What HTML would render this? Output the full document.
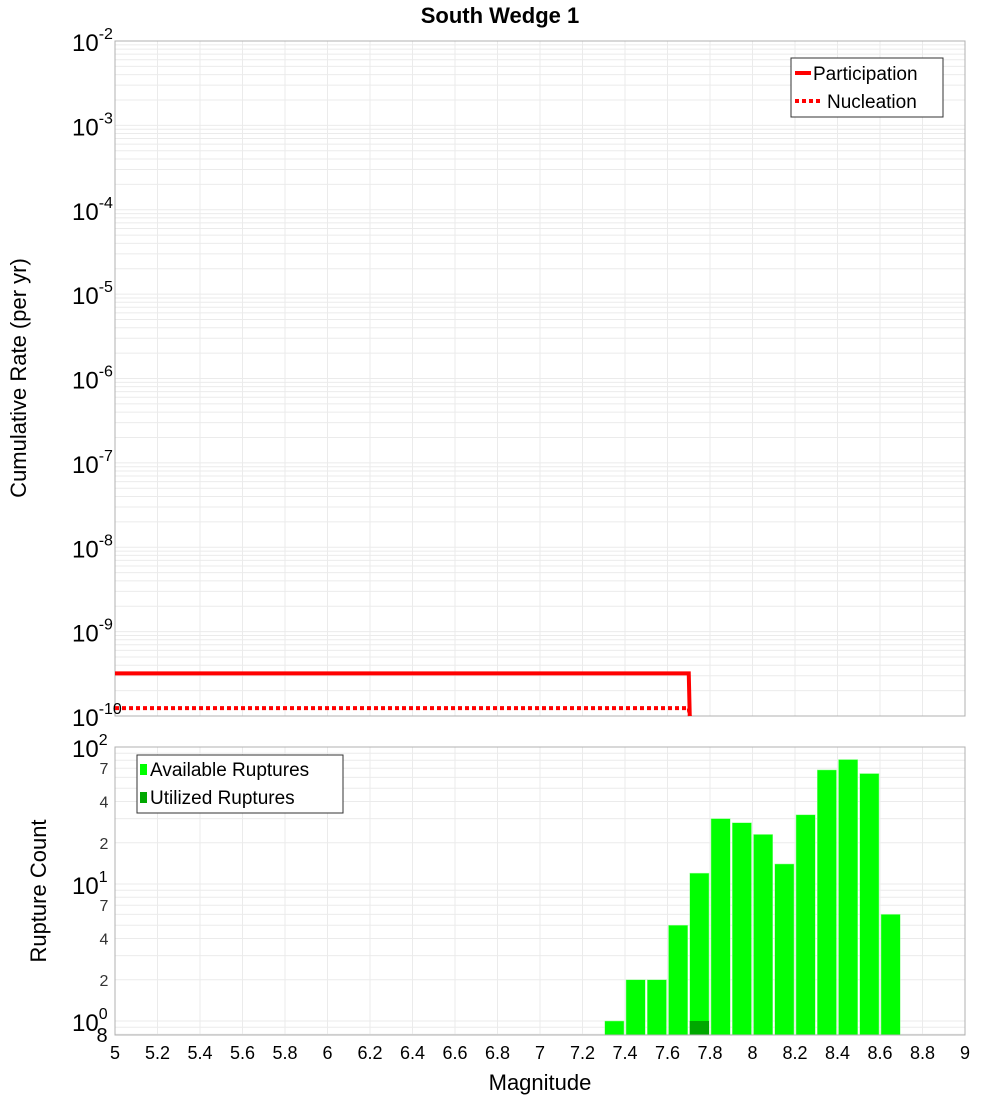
<!DOCTYPE html>
<html><head><meta charset="utf-8"><style>
body{margin:0;background:#fff;}
svg{display:block;font-family:"Liberation Sans","DejaVu Sans",sans-serif;}
</style></head><body>
<svg id="c" width="1000" height="1100" xmlns="http://www.w3.org/2000/svg"></svg>
<script>
const xTicks=[5,5.2,5.4,5.6,5.8,6,6.2,6.4,6.6,6.8,7,7.2,7.4,7.6,7.8,8,8.2,8.4,8.6,8.8,9];
const partMag=[5,7.7];
const partRate=[3.2e-10,3.2e-10];
const nuclRate=[1.24e-10,1.24e-10];
const binCenters=[7.35,7.45,7.55,7.65,7.75,7.85,7.95,8.05,8.15,8.25,8.35,8.45,8.55,8.65];
const availCounts=[1,2,2,5,12,30,28,23,14,32,68,81,64,6];
const utilCounts=[0,0,0,0,1,0,0,0,0,0,0,0,0,0];
const topDecades=[-10,-9,-8,-7,-6,-5,-4,-3,-2];
const botMinor=[2,4,7];

const S=document.getElementById('c');const NS='http://www.w3.org/2000/svg';
function el(t,a,p){const e=document.createElementNS(NS,t);for(const k in a)e.setAttribute(k,a[k]);(p||S).appendChild(e);return e;}
const L=115,R=965;
const X=m=>L+(m-5)/4*(R-L);
const T0=41,T1=716;
const YT=v=>T1-(Math.log10(v)+10)/8*(T1-T0);
const B0=747,B1=1035,dec=137;
const YB=v=>B0+(2-Math.log10(v))*dec;

// title
let t=el('text',{x:500,y:23,'text-anchor':'middle','font-size':22,'font-weight':'bold'});t.textContent='South Wedge 1';


// top grid
const gTop=el('g',{stroke:'#ebebeb','stroke-width':1});

for(let d=-10;d<-2;d++)for(let k=1;k<10;k++){const y=YT(k*Math.pow(10,d));el('line',{x1:L,x2:R,y1:y,y2:y},gTop);}
xTicks.forEach(m=>el('line',{x1:X(m),x2:X(m),y1:T0,y2:T1},gTop));
// bottom grid
const gBot=el('g',{stroke:'#ebebeb','stroke-width':1});

for(let d=-1;d<2;d++)for(let k=1;k<10;k++){const y=YB(k*Math.pow(10,d));if(y>=B0&&y<=B1)el('line',{x1:L,x2:R,y1:y,y2:y},gBot);}
xTicks.forEach(m=>el('line',{x1:X(m),x2:X(m),y1:B0,y2:B1},gBot));

// top frame
let f=el('rect',{x:L,y:T0,width:R-L,height:T1-T0,fill:'none',stroke:'#b0b0b0'});

// lines
let p=el('polyline',{points:`${X(partMag[0])},${YT(partRate[0])} ${X(partMag[1])},${YT(partRate[1])} ${X(partMag[1])+1},${T1}`,fill:'none',stroke:'#ff0000','stroke-width':4});

let n=el('polyline',{points:`${X(partMag[0])},${YT(nuclRate[0])} ${X(partMag[1])},${YT(nuclRate[1])} ${X(partMag[1])+1},${T1}`,fill:'none',stroke:'#ff0000','stroke-width':4,'stroke-dasharray':'4,3'});


// top y labels
topDecades.forEach(d=>{const y=YT(Math.pow(10,d));const tx=el('text',{x:72,y:y+10,'font-size':24});

tx.textContent='10';const s=el('tspan',{dy:-12,'font-size':16},tx);s.textContent=String(d);});
t=el('text',{transform:'translate(26,378) rotate(-90)','text-anchor':'middle','font-size':22});t.textContent='Cumulative Rate (per yr)';


// top legend
const lg=el('g',{});
el('rect',{x:791,y:58,width:152,height:59,fill:'#fff',stroke:'#333'},lg);
el('line',{x1:795,x2:811,y1:73,y2:73,stroke:'#f00','stroke-width':4},lg);
el('line',{x1:795,x2:821,y1:101,y2:101,stroke:'#f00','stroke-width':4,'stroke-dasharray':'4,3'},lg);
t=el('text',{x:813,y:80,'font-size':19},lg);t.textContent='Participation';
t=el('text',{x:827,y:108,'font-size':19},lg);t.textContent='Nucleation';

// bars
const bw=(X(5.1)-X(5));
binCenters.forEach((c,i)=>{const x=X(c)-bw/2;const y=YB(availCounts[i]);
const r=el('rect',{x:x+1,y:y,width:bw-2,height:B1-y,fill:'#00ff00',stroke:'#9cff9c','stroke-width':0.5});

if(utilCounts[i]>0){const yu=YB(utilCounts[i]);const u=el('rect',{x:x+1,y:yu,width:bw-2,height:B1-yu,fill:'#00a800'});
}});
f=el('rect',{x:L,y:B0,width:R-L,height:B1-B0,fill:'none',stroke:'#b0b0b0'});


// bottom y labels
[2,1,0].forEach(d=>{const y=YB(Math.pow(10,d));const tx=el('text',{x:72,y:y+10,'font-size':24});

tx.textContent='10';const s=el('tspan',{dy:-12,'font-size':16},tx);s.textContent=String(d);});
[0,1].forEach(d=>botMinor.forEach(k=>{const y=YB(k*Math.pow(10,d));const tx=el('text',{x:104,y:y+6,'font-size':16,'text-anchor':'middle',fill:'#333'});
tx.textContent=String(k);}));
t=el('text',{x:102,y:1042,'font-size':20,'text-anchor':'middle'});t.textContent='8';
t=el('text',{transform:'translate(46,891) rotate(-90)','text-anchor':'middle','font-size':22});t.textContent='Rupture Count';


// bottom legend
const lg2=el('g',{});
el('rect',{x:137,y:755,width:206,height:58,fill:'#fff',stroke:'#333'},lg2);
el('rect',{x:140,y:764,width:7,height:11,fill:'#00ff00'},lg2);
el('rect',{x:140,y:792,width:7,height:11,fill:'#00a800'},lg2);
t=el('text',{x:150,y:776,'font-size':19},lg2);t.textContent='Available Ruptures';
t=el('text',{x:150,y:804,'font-size':19},lg2);t.textContent='Utilized Ruptures';

// x tick labels
xTicks.forEach(m=>{const tx=el('text',{x:X(m),y:1059,'font-size':18,'text-anchor':'middle'});
tx.textContent=String(m);});
t=el('text',{x:540,y:1090,'font-size':22,'text-anchor':'middle'});t.textContent='Magnitude';

</script>
</body></html>
